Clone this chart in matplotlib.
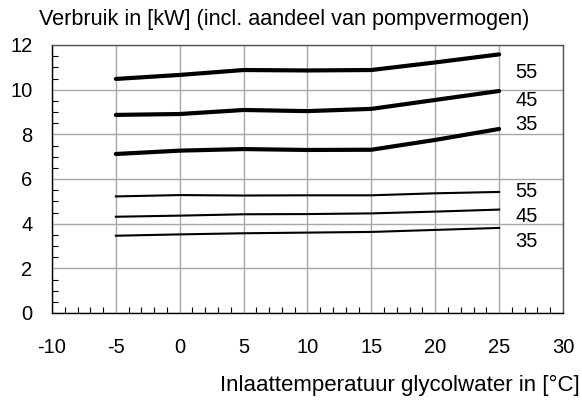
import matplotlib.pyplot as plt
from matplotlib.ticker import MultipleLocator

plt.rcParams['font.family'] = ['Liberation Sans', 'DejaVu Sans']
plt.rcParams['axes.unicode_minus'] = False

# Inlet temperature of glycol water [°C]
temp = [-5, 0, 5, 10, 15, 20, 25]

# Power consumption [kW], thick curves (upper group)
high_55 = [10.48, 10.66, 10.88, 10.86, 10.88, 11.22, 11.58]
high_45 = [8.87, 8.91, 9.09, 9.04, 9.14, 9.54, 9.94]
high_35 = [7.12, 7.27, 7.34, 7.30, 7.31, 7.75, 8.24]

# Thin curves (lower group)
low_55 = [5.22, 5.28, 5.26, 5.27, 5.27, 5.36, 5.42]
low_45 = [4.31, 4.36, 4.42, 4.43, 4.46, 4.54, 4.63]
low_35 = [3.46, 3.52, 3.57, 3.60, 3.63, 3.72, 3.81]

labels = ['55', '45', '35', '55', '45', '35']
label_y = [10.75, 9.5, 8.45, 5.45, 4.3, 3.2]

fig = plt.figure(figsize=(5.82, 4.0), dpi=100)
ax = fig.add_axes([0.0893, 0.2175, 0.8780, 0.6700])

for s in (high_55, high_45, high_35):
    ax.plot(temp, s, color='black', lw=3.0, solid_capstyle='round')
for s in (low_55, low_45, low_35):
    ax.plot(temp, s, color='black', lw=1.5)

for lab, y in zip(labels, label_y):
    ax.text(26.3, y, lab, fontsize=14.5, va='center', ha='left')

ax.set_xlim(-10, 30)
ax.set_ylim(0, 12)
ax.xaxis.set_major_locator(MultipleLocator(5))
ax.xaxis.set_minor_locator(MultipleLocator(1))
ax.yaxis.set_major_locator(MultipleLocator(2))
ax.yaxis.set_minor_locator(MultipleLocator(0.5))
ax.grid(True, which='major', color='#a8a8a8', lw=1.0)
ax.set_axisbelow(True)

ax.tick_params(which='major', length=0, labelsize=14.5)
ax.tick_params(axis='x', which='major', pad=18)
ax.tick_params(axis='y', which='major', pad=14)
ax.tick_params(which='minor', direction='in', length=4, width=0.8)
ax.tick_params(which='minor', top=False, right=False)

ax.spines['left'].set_color('black')
ax.spines['bottom'].set_color('black')
ax.spines['top'].set_color('#555555')
ax.spines['right'].set_color('#555555')
for sp in ax.spines.values():
    sp.set_linewidth(1.0)

fig.text(0.067, 0.95, 'Verbruik in [kW] (incl. aandeel van pompvermogen)',
         fontsize=15.6, va='center', ha='left')
fig.text(0.996, 0.037, 'Inlaattemperatuur glycolwater in [°C]',
         fontsize=16, va='center', ha='right')

fig.savefig('out.png', dpi=100)
